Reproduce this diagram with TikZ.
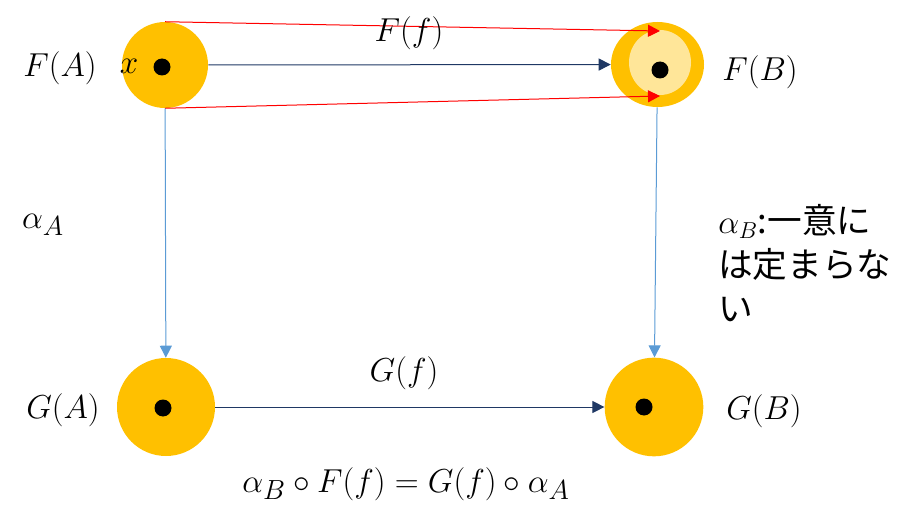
\documentclass[tikz,border=0pt]{standalone}
\usepackage{fontspec}
\usepackage{amsmath}
\usepackage{tikz}
\usetikzlibrary{shapes,arrows.meta}
\newfontfamily\jpfont{Noto Sans CJK JP}
\definecolor{gold}{RGB}{255,192,0}
\definecolor{lightgold}{RGB}{255,230,153}
\definecolor{navy}{RGB}{31,56,100}
\definecolor{skyblue}{RGB}{91,155,213}
\tikzstyle{obj}=[circle,fill=gold,inner sep=0pt]
\tikzstyle{elt}=[circle,fill=black,inner sep=0pt,minimum size=12.75pt]
\tikzstyle{lbl}=[inner sep=0pt,font=\fontsize{28}{33}\selectfont]
\tikzstyle{jplbl}=[inner sep=0pt,font=\jpfont\fontsize{26}{33}\selectfont]
\tikzstyle{map}=[navy,line width=0.75pt,-{Triangle[length=9pt,width=9pt]}]
\tikzstyle{comp}=[skyblue,line width=0.75pt,-{Triangle[length=9pt,width=9pt]}]
\tikzstyle{elmap}=[red,line width=0.75pt,-{Triangle[length=9pt,width=9pt]}]

\begin{document}
\begin{tikzpicture}[x=0.75pt,y=-0.75pt]
\useasboundingbox (0,0) rectangle (922,517);
\node[obj, minimum size=64.5pt] (FA) at (165,65) {};
\node[obj, ellipse, minimum width=69.75pt, minimum height=63.75pt] (FB) at (657.5,64.5) {};
\node[ellipse, fill=lightgold, inner sep=0pt, minimum width=46.5pt, minimum height=48.75pt] (FBin) at (660,62.5) {};
\node[obj, minimum size=73.5pt] (GA) at (166,407) {};
\node[obj, minimum size=74pt] (GB) at (654,407) {};
\node[elt] (x) at (162,67) {};
\node[elt] (y) at (660,70) {};
\node[elt] (u) at (163,408) {};
\node[elt] (v) at (644,407) {};
\coordinate (rt) at (660,31);
\coordinate (rb) at (660,96);
\draw[elmap] (FA.north) -- (rt);
\draw[elmap] (FA.south) -- (rb);
\draw[map] (FA) -- (FB);
\draw[comp] (FA) -- (GA);
\draw[comp] (FB) -- (GB);
\draw[map] (GA) -- (GB);
\node[lbl] (FAl) at (60,68) {$F(A)$};
\node[lbl] (xl) at (129,66) {$x$};
\node[lbl] (Ffl) at (409,33) {$F(f)$};
\node[lbl] (FBl) at (760,72) {$F(B)$};
\node[lbl] (aA) at (43,225) {$\alpha_A$};
\node[jplbl, anchor=north west, align=left] (aB) at (718,204) {$\alpha_B$:一意に\\は定まらな\\い};
\node[lbl] (GAl) at (63,410) {$G(A)$};
\node[lbl] (Gfl) at (404,373) {$G(f)$};
\node[lbl] (GBl) at (764,411) {$G(B)$};
\node[lbl] (eq) at (406,484) {$\alpha_B\circ F(f)=G(f)\circ\alpha_A$};
\end{tikzpicture}
\end{document}
